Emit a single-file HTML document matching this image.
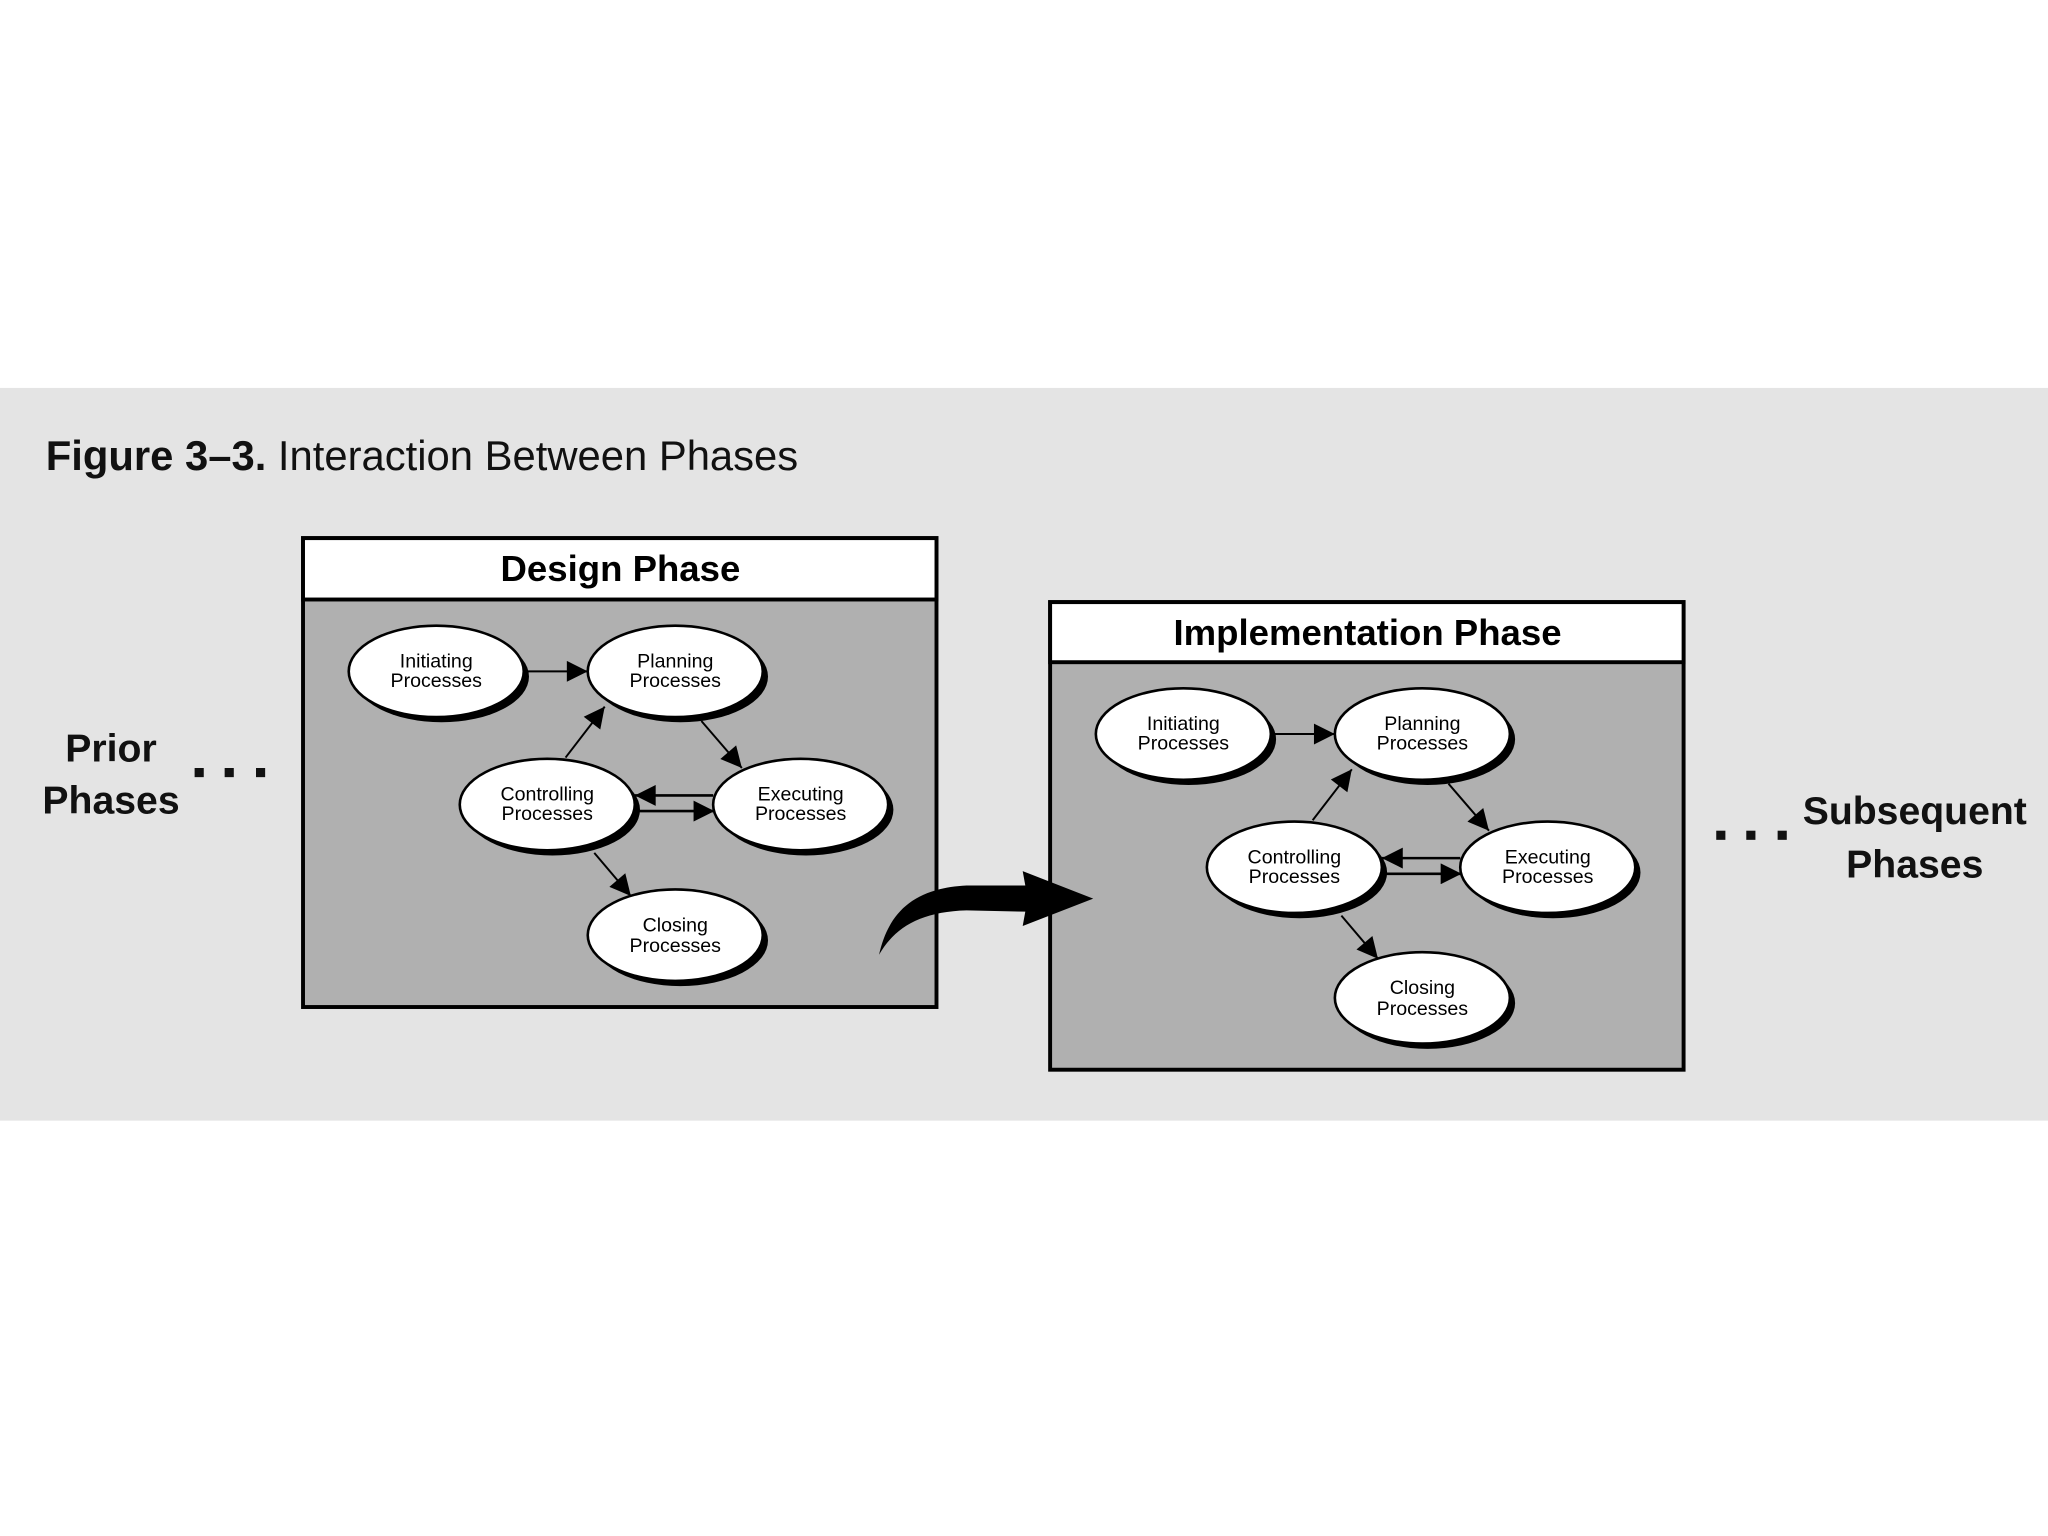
<!DOCTYPE html>
<html><head><meta charset="utf-8"><style>
html,body{margin:0;padding:0;background:#fff;}
svg{display:block;}
.t{font-family:"Liberation Sans Narrow","Liberation Sans",sans-serif;}
</style></head><body>
<svg width="2048" height="1536" viewBox="0 0 1568 1176" xmlns="http://www.w3.org/2000/svg">
<defs>
<marker id="ah" viewBox="0 0 10 10" refX="10" refY="5" markerWidth="6" markerHeight="6" orient="auto" markerUnits="userSpaceOnUse">
<path d="M0,0 L10,5 L0,10 Z" fill="#000"/></marker>
<marker id="a" viewBox="0 0 10 10" refX="10" refY="5" markerWidth="18" markerHeight="16" orient="auto" markerUnits="userSpaceOnUse">
<path d="M0,0 L10,5 L0,10 Z" fill="#000"/></marker>
<g id="ph">
<g class="t" font-size="15" text-anchor="middle" fill="#000">
<ellipse cx="338" cy="518" rx="67" ry="35" fill="#000"/>
<ellipse cx="334" cy="514" rx="67" ry="35" fill="#fff" stroke="#000" stroke-width="2"/>
<text x="334" y="511">Initiating</text><text x="334" y="526">Processes</text>
<ellipse cx="521" cy="518" rx="67" ry="35" fill="#000"/>
<ellipse cx="517" cy="514" rx="67" ry="35" fill="#fff" stroke="#000" stroke-width="2"/>
<text x="517" y="511">Planning</text><text x="517" y="526">Processes</text>
<ellipse cx="423" cy="620" rx="67" ry="35" fill="#000"/>
<ellipse cx="419" cy="616" rx="67" ry="35" fill="#fff" stroke="#000" stroke-width="2"/>
<text x="419" y="613">Controlling</text><text x="419" y="628">Processes</text>
<ellipse cx="617" cy="620" rx="67" ry="35" fill="#000"/>
<ellipse cx="613" cy="616" rx="67" ry="35" fill="#fff" stroke="#000" stroke-width="2"/>
<text x="613" y="613">Executing</text><text x="613" y="628">Processes</text>
<ellipse cx="521" cy="720" rx="67" ry="35" fill="#000"/>
<ellipse cx="517" cy="716" rx="67" ry="35" fill="#fff" stroke="#000" stroke-width="2"/>
<text x="517" y="713">Closing</text><text x="517" y="729">Processes</text>
</g>
<g stroke="#000" stroke-width="1.5" fill="none">
<line x1="403" y1="514" x2="450" y2="514" marker-end="url(#a)"/>
<line x1="537" y1="552" x2="568" y2="588" marker-end="url(#a)"/>
<line x1="433" y1="580" x2="463" y2="541" marker-end="url(#a)"/>
<line x1="546" y1="609" x2="486" y2="609" stroke-width="2" marker-end="url(#a)"/>
<line x1="488" y1="621" x2="547" y2="621" stroke-width="2" marker-end="url(#a)"/>
<line x1="455" y1="653" x2="483" y2="686" marker-end="url(#a)"/>
</g>
</g>
</defs>
<rect x="0" y="297" width="1568" height="561" fill="#e4e4e4"/>
<text x="35" y="360" font-family="Liberation Sans,sans-serif" font-size="32" fill="#111"><tspan font-weight="bold">Figure 3–3.</tspan> Interaction Between Phases</text>
<!-- Design -->
<rect x="232" y="412" width="485" height="359" fill="#b0b0b0" stroke="#000" stroke-width="3"/>
<rect x="232" y="412" width="485" height="47" fill="#fff" stroke="#000" stroke-width="3"/>
<text class="t" x="475" y="445" font-size="28" font-weight="bold" text-anchor="middle">Design Phase</text>
<use href="#ph"/>
<!-- Impl -->
<rect x="804" y="461" width="485" height="358" fill="#b0b0b0" stroke="#000" stroke-width="3"/>
<rect x="804" y="461" width="485" height="46" fill="#fff" stroke="#000" stroke-width="3"/>
<text class="t" x="1047" y="494" font-size="28" font-weight="bold" text-anchor="middle">Implementation Phase</text>
<use href="#ph" transform="translate(572,48)"/>
<!-- big arrow -->
<path d="M673,731 C680,700 698,680 740,678 L785,678 L783,667 L837,688 L783,709 L785,698 L740,697 C705,698 685,710 673,731 Z" fill="#000"/>
<!-- side labels -->
<g class="t" font-size="30" font-weight="bold" text-anchor="middle" fill="#111">
<text x="85" y="583">Prior</text><text x="85" y="623">Phases</text>
<text x="1466" y="631">Subsequent</text><text x="1466" y="672">Phases</text>
</g>
<g fill="#111">
<rect x="149" y="588" width="7" height="7"/><rect x="172" y="588" width="7" height="7"/><rect x="196" y="588" width="7" height="7"/>
<rect x="1314" y="636" width="7" height="7"/><rect x="1337" y="636" width="7" height="7"/><rect x="1361" y="636" width="7" height="7"/>
</g>
</svg>
</body></html>
